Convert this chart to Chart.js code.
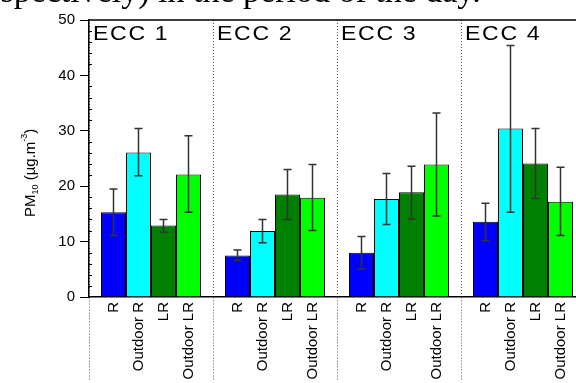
<!DOCTYPE html>
<html>
<head>
<meta charset="utf-8">
<script src="https://cdn.jsdelivr.net/npm/chart.js@4"></script>
<style>
  html, body { margin: 0; padding: 0; background: #fff; overflow: hidden; }
  #wrap { width: 576px; height: 383px; overflow: hidden; position: relative; }
  canvas { position: absolute; left: 0; top: 0; }
</style>
</head>
<body>
<div id="wrap"><canvas id="chart" width="592" height="383"></canvas></div>
<script>
const groups = ['ECC 1', 'ECC 2', 'ECC 3', 'ECC 4'];
const types = ['R', 'Outdoor R', 'LR', 'Outdoor LR'];
const colors = ['#0000ff', '#00ffff', '#008000', '#00ff00'];

const rMean = [15.3, 7.5, 8.0, 13.6];
const rHi = [19.5, 8.5, 10.9, 16.9];
const rLo = [11.1, 6.6, 5.0, 10.2];

const outRMean = [26.1, 11.9, 17.7, 30.4];
const outRHi = [30.4, 14.0, 22.3, 45.4];
const outRLo = [21.9, 9.8, 13.1, 15.3];

const lrMean = [12.9, 18.5, 18.9, 24.1];
const lrHi = [14.0, 23.0, 23.6, 30.4];
const lrLo = [11.7, 14.0, 14.1, 17.8];

const outLrMean = [22.1, 17.9, 23.9, 17.2];
const outLrHi = [29.1, 23.9, 33.2, 23.4];
const outLrLo = [15.3, 12.0, 14.6, 11.1];

const yTicks = [0, 10, 20, 30, 40, 50];
const topText = 'respectively) in the period of the day.';

const means = [rMean, outRMean, lrMean, outLrMean];
const his = [rHi, outRHi, lrHi, outLrHi];
const los = [rLo, outRLo, lrLo, outLrLo];

const sans = '"Liberation Sans", Arial, sans-serif';

const extras = {
  id: 'extras',
  afterDatasetsDraw(chart) {
    const { ctx, scales: { y } } = chart;

    // error bars
    ctx.save();
    ctx.strokeStyle = '#333';
    ctx.lineWidth = 1.5;
    chart.data.datasets.forEach((ds, d) => {
      chart.getDatasetMeta(d).data.forEach((bar, i) => {
        const yh = y.getPixelForValue(his[d][i]);
        const yl = y.getPixelForValue(los[d][i]);
        ctx.beginPath();
        ctx.moveTo(bar.x, yh); ctx.lineTo(bar.x, yl);
        ctx.moveTo(bar.x - 4, yh); ctx.lineTo(bar.x + 4, yh);
        ctx.moveTo(bar.x - 4, yl); ctx.lineTo(bar.x + 4, yl);
        ctx.stroke();
      });
    });
    ctx.restore();
  },
  afterDraw(chart) {
    const { ctx, chartArea, scales: { x, y } } = chart;
    ctx.save();

    // frame top line
    ctx.strokeStyle = '#000';
    ctx.lineWidth = 1.5;
    ctx.beginPath();
    ctx.moveTo(chartArea.left, chartArea.top);
    ctx.lineTo(chartArea.right, chartArea.top);
    ctx.stroke();

    // minor ticks on y axis
    ctx.lineWidth = 1;
    ctx.beginPath();
    for (let v = 2; v < 50; v += 2) {
      if (v % 10 === 0) continue;
      const py = Math.round(y.getPixelForValue(v)) + 0.5;
      ctx.moveTo(chartArea.left, py);
      ctx.lineTo(chartArea.left + 3, py);
    }
    ctx.stroke();

    // group labels
    ctx.fillStyle = '#000';
    ctx.font = '21px ' + sans;
    ctx.textBaseline = 'top';
    ctx.textAlign = 'left';
    if ('letterSpacing' in ctx) ctx.letterSpacing = '1.5px';
    const step = x.getPixelForValue(1) - x.getPixelForValue(0);
    groups.forEach((g, i) => {
      const left = x.getPixelForValue(i) - step / 2;
      ctx.save();
      ctx.translate(left + 4, chartArea.top + 4);
      ctx.scale(1.1, 1);
      ctx.fillText(g, 0, 0);
      ctx.restore();
    });
    if ('letterSpacing' in ctx) ctx.letterSpacing = '0px';

    // rotated bar labels
    ctx.font = '15px ' + sans;
    ctx.textAlign = 'right';
    ctx.textBaseline = 'middle';
    chart.data.datasets.forEach((ds, d) => {
      chart.getDatasetMeta(d).data.forEach(bar => {
        ctx.save();
        ctx.translate(bar.x, chartArea.bottom + 5);
        ctx.rotate(-Math.PI / 2);
        ctx.fillText(types[d], 0, 0);
        ctx.restore();
      });
    });

    // y axis title: PM10 (µg.m-3)
    ctx.save();
    ctx.translate(35, 217);
    ctx.rotate(-Math.PI / 2);
    ctx.textAlign = 'left';
    ctx.textBaseline = 'alphabetic';
    let cx = 0;
    ctx.font = '15px ' + sans;
    ctx.fillText('PM', cx, 0); cx += ctx.measureText('PM').width;
    ctx.font = '9px ' + sans;
    ctx.fillText('10', cx, 3); cx += ctx.measureText('10').width;
    ctx.font = '15px ' + sans;
    ctx.fillText(' (\u00b5g.m', cx, 0); cx += ctx.measureText(' (\u00b5g.m').width;
    ctx.font = '9px ' + sans;
    ctx.fillText('-3', cx, -8); cx += ctx.measureText('-3').width;
    ctx.font = '15px ' + sans;
    ctx.fillText(')', cx, 0);
    ctx.restore();

    ctx.restore();

    // cut-off document text above the figure
    ctx.save();
    ctx.setTransform(1, 0, 0, 1, 0, 0);
    ctx.fillStyle = '#000';
    ctx.font = '34px "Liberation Serif", serif';
    ctx.textAlign = 'left';
    ctx.textBaseline = 'alphabetic';
    ctx.fillText(topText, -26, 1.5);
    ctx.restore();
  }
};

new Chart(document.getElementById('chart'), {
  type: 'bar',
  data: {
    labels: groups,
    datasets: types.map((t, d) => ({
      label: t,
      data: means[d],
      backgroundColor: colors[d],
      borderColor: '#000',
      borderWidth: 1,
      borderSkipped: 'bottom',
      categoryPercentage: 100 / 124,
      barPercentage: 1
    }))
  },
  options: {
    responsive: false,
    animation: false,
    layout: { padding: { top: 20, right: 7, left: 0, bottom: 0 } },
    plugins: { legend: { display: false }, tooltip: { enabled: false } },
    scales: {
      x: {
        type: 'category',
        offset: true,
        ticks: { display: false },
        grid: {
          offset: true,
          color: '#555',
          lineWidth: 1,
          tickLength: 84,
          tickBorderDash: [1, 2]
        },
        border: { display: true, color: '#000', width: 1.5, dash: [1, 2] },
        afterFit: s => { s.height = 86; }
      },
      y: {
        min: 0,
        max: 50,
        afterBuildTicks: s => { s.ticks = yTicks.map(v => ({ value: v })); },
        ticks: { color: '#000', font: { size: 15, family: sans }, padding: 5 },
        grid: { drawOnChartArea: false, color: '#000', tickLength: 9 },
        border: { display: true, color: '#000', width: 1.5 },
        afterFit: s => { s.width = 89; }
      }
    }
  },
  plugins: [extras]
});
</script>
</body>
</html>
